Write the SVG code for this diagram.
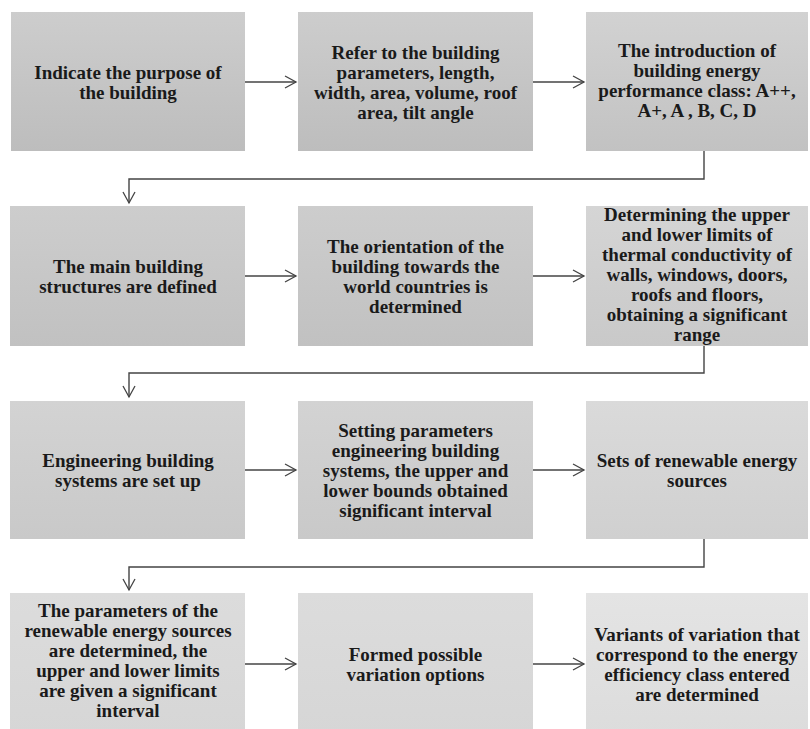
<svg xmlns="http://www.w3.org/2000/svg" width="810" height="729" viewBox="0 0 810 729">
<defs>
<linearGradient id="g1" x1="0" y1="0" x2="0" y2="1"><stop offset="0" stop-color="#cdcdcd"/><stop offset="1" stop-color="#bdbdbd"/></linearGradient>
<linearGradient id="g1b" x1="0" y1="0" x2="0" y2="1"><stop offset="0" stop-color="#d2d2d2"/><stop offset="1" stop-color="#c2c2c2"/></linearGradient>
<linearGradient id="g2" x1="0" y1="0" x2="0" y2="1"><stop offset="0" stop-color="#cdcdcd"/><stop offset="1" stop-color="#c1c1c1"/></linearGradient>
<linearGradient id="g2b" x1="0" y1="0" x2="0" y2="1"><stop offset="0" stop-color="#d5d5d5"/><stop offset="1" stop-color="#c9c9c9"/></linearGradient>
<linearGradient id="g3" x1="0" y1="0" x2="0" y2="1"><stop offset="0" stop-color="#d3d3d3"/><stop offset="1" stop-color="#c9c9c9"/></linearGradient>
<linearGradient id="g3b" x1="0" y1="0" x2="0" y2="1"><stop offset="0" stop-color="#dadada"/><stop offset="1" stop-color="#d0d0d0"/></linearGradient>
<linearGradient id="g4" x1="0" y1="0" x2="0" y2="1"><stop offset="0" stop-color="#dcdcdc"/><stop offset="1" stop-color="#d6d6d6"/></linearGradient>
<linearGradient id="g4b" x1="0" y1="0" x2="0" y2="1"><stop offset="0" stop-color="#e4e4e4"/><stop offset="1" stop-color="#dcdcdc"/></linearGradient>
<marker id="ah" markerWidth="14" markerHeight="14" refX="12" refY="7" orient="auto" markerUnits="userSpaceOnUse">
<path d="M1,1 L12,7 L1,13" fill="none" stroke="#444" stroke-width="1.3"/>
</marker>
</defs>
<style>
text{font-family:"Liberation Serif","Times New Roman",serif;font-weight:bold;font-size:19px;fill:#1a1a1a;text-anchor:middle}
.c{fill:none;stroke:#444;stroke-width:1.4}
</style>
<rect width="810" height="729" fill="#ffffff"/>
<g id="connectors">
<path class="c" d="M245,82 H296" marker-end="url(#ah)"/>
<path class="c" d="M533,82 H584" marker-end="url(#ah)"/>
<path class="c" d="M704,151 V179 H129 V203" marker-end="url(#ah)"/>
<path class="c" d="M245,276 H296" marker-end="url(#ah)"/>
<path class="c" d="M533,276 H584" marker-end="url(#ah)"/>
<path class="c" d="M704,346 V373 H129 V397" marker-end="url(#ah)"/>
<path class="c" d="M245,470 H296" marker-end="url(#ah)"/>
<path class="c" d="M533,470 H584" marker-end="url(#ah)"/>
<path class="c" d="M704,539 V567 H129 V590" marker-end="url(#ah)"/>
<path class="c" d="M245,664 H296" marker-end="url(#ah)"/>
<path class="c" d="M533,664 H584" marker-end="url(#ah)"/>
</g>
<g id="n1"><rect x="11" y="12" width="234" height="139" fill="url(#g1)"/>
<text x="128" y="79">Indicate the purpose of</text><text x="128" y="99">the building</text></g>
<g id="n2"><rect x="298" y="12" width="235" height="139" fill="url(#g1)"/>
<text x="415.5" y="59">Refer to the building</text><text x="415.5" y="79">parameters, length,</text><text x="415.5" y="99">width, area, volume, roof</text><text x="415.5" y="119">area, tilt angle</text></g>
<g id="n3"><rect x="586" y="12" width="222" height="139" fill="url(#g1b)"/>
<text x="697" y="57">The introduction of</text><text x="697" y="77">building energy</text><text x="697" y="97">performance class: A++,</text><text x="697" y="117">A+, A , B, C, D</text></g>
<g id="n4"><rect x="10" y="206" width="235" height="140" fill="url(#g2)"/>
<text x="128" y="273">The main building</text><text x="128" y="293">structures are defined</text></g>
<g id="n5"><rect x="298" y="206" width="235" height="140" fill="url(#g2)"/>
<text x="415.5" y="253">The orientation of the</text><text x="415.5" y="273">building towards the</text><text x="415.5" y="293">world countries is</text><text x="415.5" y="313">determined</text></g>
<g id="n6"><rect x="586" y="206" width="222" height="140" fill="url(#g2b)"/>
<text x="697" y="221">Determining the upper</text><text x="697" y="241">and lower limits of</text><text x="697" y="261">thermal conductivity of</text><text x="697" y="281">walls, windows, doors,</text><text x="697" y="301">roofs and floors,</text><text x="697" y="321">obtaining a significant</text><text x="697" y="341">range</text></g>
<g id="n7"><rect x="10" y="401" width="235" height="138" fill="url(#g3)"/>
<text x="128" y="467">Engineering building</text><text x="128" y="487">systems are set up</text></g>
<g id="n8"><rect x="298" y="401" width="235" height="138" fill="url(#g3)"/>
<text x="415.5" y="437">Setting parameters</text><text x="415.5" y="457">engineering building</text><text x="415.5" y="477">systems, the upper and</text><text x="415.5" y="497">lower bounds obtained</text><text x="415.5" y="517">significant interval</text></g>
<g id="n9"><rect x="586" y="401" width="222" height="138" fill="url(#g3b)"/>
<text x="697" y="467">Sets of renewable energy</text><text x="697" y="487">sources</text></g>
<g id="n10"><rect x="10" y="593" width="235" height="142" fill="url(#g4)"/>
<text x="128" y="617">The parameters of the</text><text x="128" y="637">renewable energy sources</text><text x="128" y="657">are determined, the</text><text x="128" y="677">upper and lower limits</text><text x="128" y="697">are given a significant</text><text x="128" y="717">interval</text></g>
<g id="n11"><rect x="298" y="593" width="235" height="142" fill="url(#g4)"/>
<text x="415.5" y="661">Formed possible</text><text x="415.5" y="681">variation options</text></g>
<g id="n12"><rect x="586" y="593" width="222" height="142" fill="url(#g4b)"/>
<text x="697" y="641">Variants of variation that</text><text x="697" y="661">correspond to the energy</text><text x="697" y="681">efficiency class entered</text><text x="697" y="701">are determined</text></g>
</svg>
